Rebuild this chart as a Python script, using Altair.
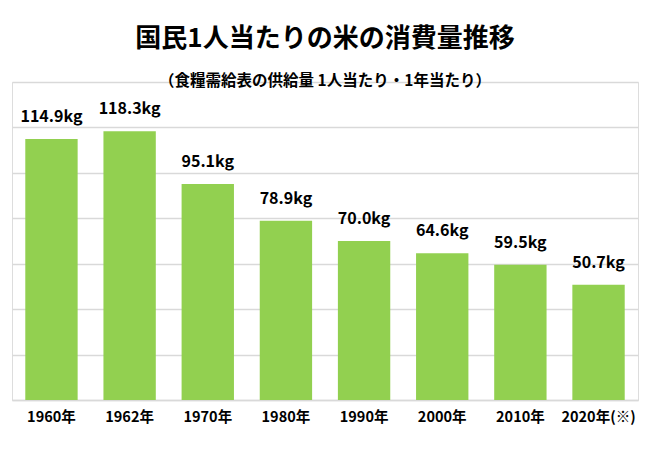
import pandas as pd
import altair as alt

# 年次と1人当たり米消費量(kg)
years = ["1960年", "1962年", "1970年", "1980年", "1990年", "2000年", "2010年", "2020年(※)"]
consumption = [114.9, 118.3, 95.1, 78.9, 70.0, 64.6, 59.5, 50.7]

df = pd.DataFrame({"year": years, "kg": consumption})

FONT = "Noto Sans CJK JP"
GREEN = "#92D050"

base = alt.Chart(df).encode(
    x=alt.X(
        "year:N",
        sort=years,
        title=None,
        scale=alt.Scale(paddingInner=0.33, paddingOuter=0.17),
        axis=alt.Axis(
            labelAngle=0,
            labelFont=FONT,
            labelFontSize=14.5,
            labelFontWeight="bold",
            labelColor="#000000",
            labelPadding=10,
            ticks=False,
            domainColor="#d9d9d9",
            domainWidth=1.5,
        ),
    ),
    y=alt.Y(
        "kg:Q",
        title=None,
        scale=alt.Scale(domain=[0, 140]),
        axis=alt.Axis(
            values=[0, 20, 40, 60, 80, 100, 120, 140],
            labels=False,
            ticks=False,
            domain=False,
            grid=True,
            gridColor="#d9d9d9",
            gridWidth=1.5,
        ),
    ),
)

bars = base.mark_bar(color=GREEN)

labels = base.transform_calculate(
    label="format(datum.kg, '.1f') + 'kg'"
).mark_text(
    font=FONT,
    fontSize=16,
    fontWeight="bold",
    color="#000000",
    baseline="middle",
    dy=-22,
).encode(text="label:N")

chart = (
    alt.layer(bars, labels)
    .properties(
        width=626,
        height=318,
        padding={"left": 4, "right": 4, "top": 17, "bottom": 10},
        title=alt.TitleParams(
            text="国民1人当たりの米の消費量推移",
            subtitle="（食糧需給表の供給量 1人当たり・1年当たり）",
            font=FONT,
            fontSize=26,
            fontWeight="bold",
            color="#000000",
            subtitleFont=FONT,
            subtitleFontSize=15.5,
            subtitleFontWeight="bold",
            subtitleColor="#000000",
            subtitlePadding=22,
            anchor="middle",
            offset=-7,
        ),
    )
    .configure_view(stroke=None)
    .configure(background="#ffffff")
)

chart.save("out.html", embed_options={"renderer": "svg", "actions": False})
